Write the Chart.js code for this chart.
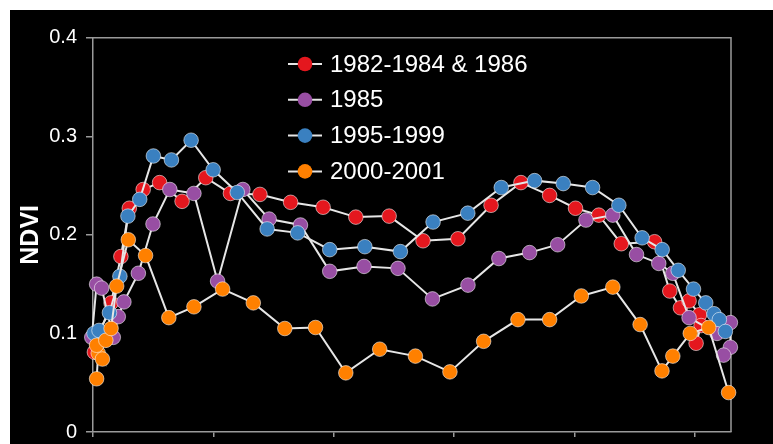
<!DOCTYPE html>
<html>
<head>
<meta charset="utf-8">
<script src="https://cdn.jsdelivr.net/npm/chart.js@4.4.1/dist/chart.umd.min.js"></script>
<style>
  html, body { margin: 0; padding: 0; background: #fff; width: 773px; height: 444px; overflow: hidden; }
  #wrap { position: absolute; left: 10px; top: 10px; width: 763px; height: 434px; background: #000; overflow: hidden; }
  canvas { display: block; }
</style>
</head>
<body>
<div id="wrap"><canvas id="ndvi" width="763" height="470"></canvas></div>
<script>
// Seasonal NDVI curves, one series per period
const seriesNames = ['1982-1984 & 1986', '1985', '1995-1999', '2000-2001'];
const seriesColors = ['#e4171e', '#984ea3', '#3a80c0', '#ff8000'];

const xRed = [0.7, 3.7, 9.0, 13.9, 18.1, 25.0, 33.2, 44.4, 56.2, 68.5, 83.2, 98.5, 114.7, 131.0, 147.6, 164.5, 181.9, 198.4, 213.3, 227.6, 240.5, 252.1, 263.3, 279.9, 287.5, 292.8, 297.1, 302.3, 303.1, 300.6];
const yRed = [0.081, 0.102, 0.131, 0.178, 0.227, 0.246, 0.253, 0.234, 0.258, 0.242, 0.241, 0.233, 0.228, 0.218, 0.219, 0.194, 0.196, 0.230, 0.253, 0.240, 0.227, 0.220, 0.191, 0.193, 0.143, 0.126, 0.133, 0.119, 0.108, 0.090];

const xPurple = [-0.6, 1.8, 4.3, 10.1, 12.6, 15.4, 22.6, 29.9, 38.3, 50.3, 62.1, 74.7, 87.8, 103.4, 118.0, 135.1, 152.0, 169.2, 186.9, 202.3, 217.6, 231.6, 245.7, 259.1, 270.9, 282.0, 289.0, 297.1, 311.0, 317.7, 317.7, 314.3];
const yPurple = [0.096, 0.150, 0.146, 0.096, 0.117, 0.132, 0.161, 0.211, 0.246, 0.242, 0.153, 0.246, 0.216, 0.210, 0.163, 0.168, 0.166, 0.135, 0.149, 0.176, 0.182, 0.190, 0.215, 0.220, 0.180, 0.171, 0.161, 0.116, 0.100, 0.111, 0.086, 0.078];

const xBlue = [0.5, 3.0, 8.2, 13.4, 17.4, 23.3, 30.1, 39.1, 48.9, 59.9, 71.9, 86.8, 102.0, 118.0, 135.5, 153.2, 169.5, 186.8, 203.5, 220.1, 234.4, 249.0, 262.1, 273.7, 283.7, 291.7, 299.3, 305.4, 309.5, 312.2, 315.2];
const yBlue = [0.100, 0.103, 0.121, 0.158, 0.219, 0.236, 0.280, 0.276, 0.296, 0.266, 0.243, 0.206, 0.202, 0.185, 0.188, 0.183, 0.213, 0.222, 0.248, 0.255, 0.252, 0.248, 0.230, 0.197, 0.185, 0.164, 0.145, 0.131, 0.120, 0.114, 0.102];

const xOrange = [1.8, 2.6, 4.7, 1.8, 6.4, 9.0, 11.8, 17.6, 26.2, 37.8, 50.3, 64.6, 79.9, 95.6, 110.9, 126.0, 142.9, 160.7, 177.9, 194.7, 211.8, 227.6, 243.4, 259.1, 272.7, 283.6, 289.0, 297.7, 306.9, 316.8];
const yOrange = [0.054, 0.080, 0.074, 0.088, 0.093, 0.105, 0.148, 0.195, 0.179, 0.116, 0.127, 0.145, 0.131, 0.105, 0.106, 0.060, 0.084, 0.077, 0.061, 0.092, 0.114, 0.114, 0.138, 0.147, 0.109, 0.062, 0.077, 0.100, 0.106, 0.040];

const xTicks = [0, 60, 120, 180, 240, 300];
const yTicks = [0, 0.1, 0.2, 0.3, 0.4];

const axisGray = '#9a9a9a';
const toPoints = (xs, ys) => xs.map((x, i) => ({ x: x, y: ys[i] }));

function series(idx, xs, ys, order) {
  return {
    label: seriesNames[idx],
    data: toPoints(xs, ys),
    order: order,
    borderColor: '#e6e6e6',
    borderWidth: 2,
    tension: 0,
    clip: false,
    pointStyle: 'circle',
    pointRadius: 7.3,
    pointHoverRadius: 7.3,
    pointBackgroundColor: seriesColors[idx],
    pointBorderColor: 'rgba(255,255,255,0.55)',
    pointBorderWidth: 1
  };
}

// frame on top/right of plot area, and the key drawn inside the plot
const frameAndKey = {
  id: 'frameAndKey',
  beforeDatasetsDraw(chart) {
    const { ctx, chartArea: a } = chart;
    ctx.save();
    ctx.strokeStyle = axisGray;
    ctx.lineWidth = 1.5;
    ctx.beginPath();
    ctx.moveTo(a.left, a.top);
    ctx.lineTo(a.right, a.top);
    ctx.lineTo(a.right, a.bottom);
    ctx.stroke();
    ctx.restore();
  },
  afterDatasetsDraw(chart) {
    const { ctx } = chart;
    ctx.save();
    ctx.font = '24px "Liberation Sans", Arial, sans-serif';
    ctx.textBaseline = 'middle';
    ctx.textAlign = 'left';
    seriesNames.forEach((name, i) => {
      const y = 54 + i * 35.8;
      ctx.strokeStyle = '#e6e6e6';
      ctx.lineWidth = 2;
      ctx.beginPath();
      ctx.moveTo(278, y);
      ctx.lineTo(312, y);
      ctx.stroke();
      ctx.beginPath();
      ctx.arc(295, y, 7.3, 0, Math.PI * 2);
      ctx.fillStyle = seriesColors[i];
      ctx.fill();
      ctx.fillStyle = '#ffffff';
      ctx.fillText(name, 320, y + 1);
    });
    ctx.restore();
  }
};

new Chart(document.getElementById('ndvi'), {
  type: 'line',
  data: {
    datasets: [
      series(3, xOrange, yOrange, 0),
      series(2, xBlue, yBlue, 1),
      series(1, xPurple, yPurple, 2),
      series(0, xRed, yRed, 3)
    ]
  },
  options: {
    responsive: false,
    animation: false,
    events: [],
    layout: { padding: { top: 27.7, right: 42, left: 0, bottom: 0 } },
    plugins: { legend: { display: false }, tooltip: { enabled: false } },
    scales: {
      x: {
        type: 'linear',
        min: 0,
        max: 318,
        afterBuildTicks: s => { s.ticks = xTicks.map(v => ({ value: v })); },
        afterFit: s => { s.height = 48; },
        ticks: { display: false },
        grid: { drawOnChartArea: false, drawTicks: true, tickLength: 5, color: axisGray, lineWidth: 1.5 },
        border: { display: true, color: axisGray, width: 1.5 }
      },
      y: {
        type: 'linear',
        min: 0,
        max: 0.4,
        afterBuildTicks: s => { s.ticks = yTicks.map(v => ({ value: v })); },
        afterFit: s => { s.width = 83; },
        ticks: {
          color: '#ffffff',
          padding: 9,
          font: { family: '"Liberation Sans", Arial, sans-serif', size: 20 },
          callback: v => (v === 0 ? '0' : v.toFixed(1))
        },
        grid: { drawOnChartArea: false, drawTicks: true, tickLength: 7, color: axisGray, lineWidth: 1.5 },
        border: { display: true, color: axisGray, width: 1.5 },
        title: {
          display: true,
          text: 'NDVI',
          color: '#ffffff',
          padding: { top: 6, bottom: 0 },
          font: { family: '"Liberation Sans", Arial, sans-serif', size: 25, weight: 'bold' }
        }
      }
    }
  },
  plugins: [frameAndKey]
});
</script>
</body>
</html>
